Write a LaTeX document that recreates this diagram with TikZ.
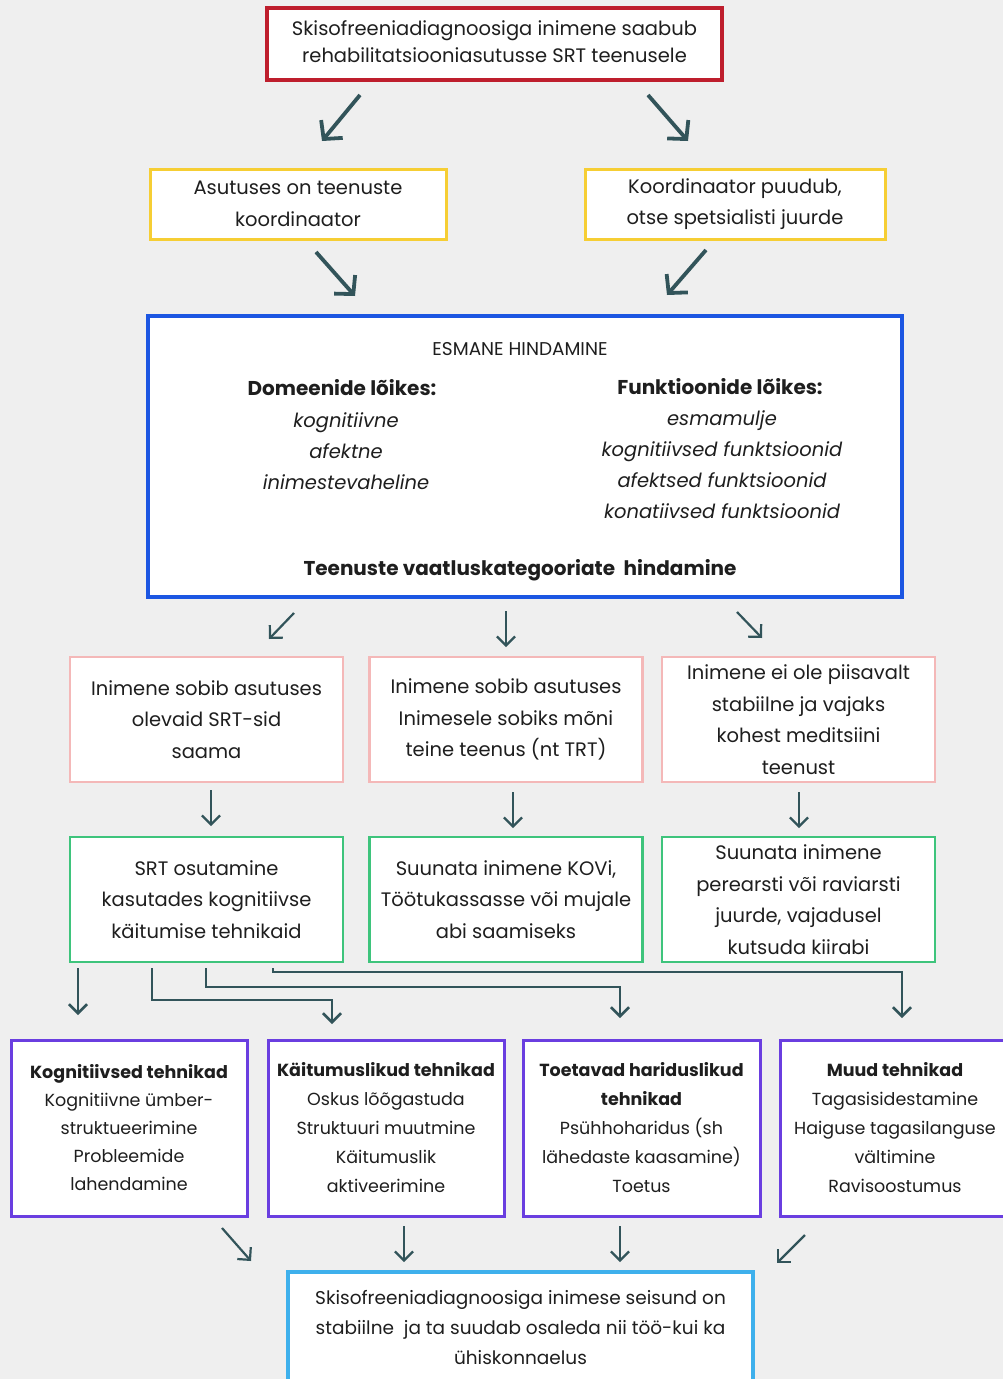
\documentclass[tikz,border=0pt]{standalone}
\usepackage{fontspec}
\setmainfont{Poppins}
\usetikzlibrary{arrows.meta}
\definecolor{bgc}{RGB}{239,239,239}
\definecolor{redc}{RGB}{190,30,45}
\definecolor{yelc}{RGB}{246,206,52}
\definecolor{bluec}{RGB}{28,86,226}
\definecolor{pinkc}{RGB}{244,184,184}
\definecolor{greenc}{RGB}{62,196,124}
\definecolor{purc}{RGB}{106,62,224}
\definecolor{lbluec}{RGB}{62,176,236}
\definecolor{arrc}{RGB}{50,84,90}
\definecolor{txtc}{RGB}{30,30,30}
\tikzset{
  box/.style={draw, fill=white, inner sep=0pt, align=center, text=txtc},
  redbox/.style={box, draw=redc, line width=3.5pt},
  yelbox/.style={box, draw=yelc, line width=3pt},
  bluebox/.style={box, draw=bluec, line width=4pt},
  pinkbox/.style={box, draw=pinkc, line width=2.2pt, minimum width=273pt, minimum height=125pt},
  greenbox/.style={box, draw=greenc, line width=2.8pt, minimum width=273pt, minimum height=125pt},
  purbox/.style={box, draw=purc, line width=3pt, minimum height=176pt},
  lbluebox/.style={box, draw=lbluec, line width=4pt},
  maintxt/.style={font=\fontsize{19.5}{31.5}\selectfont},
  smalltxt/.style={font=\fontsize{17.5}{29}\selectfont},
  lbl/.style={text=txtc, inner sep=0pt, align=center},
  bigarr/.style={draw=arrc, line width=3.8pt, -{Straight Barb[length=13pt,width=28pt,line width=3.8pt]}},
  thinarr/.style={draw=arrc, line width=2.2pt, -{Straight Barb[length=9pt,width=18pt,line width=2.2pt]}},
  conn/.style={draw=arrc, line width=2.6pt, -{Straight Barb[length=9pt,width=18pt,line width=2.6pt]}},
}
\begin{document}
\begin{tikzpicture}[x=1pt,y=-1pt]
\fill[bgc] (0,0) rectangle (1003,1379);
\useasboundingbox (0,0) rectangle (1003,1379);

% top box
\node[redbox, minimum width=455pt, minimum height=72pt, font=\fontsize{19.5}{27}\selectfont] (top) at (494.5,44)
  {\raisebox{-3pt}{\begin{tabular}{@{}c@{}}Skisofreeniadiagnoosiga inimene saabub\\rehabilitatsiooniasutusse SRT teenusele\end{tabular}}};

% yellow boxes
\node[yelbox, minimum width=296pt, minimum height=70pt, maintxt] (yl) at (298,204)
  {Asutuses on teenuste\\koordinaator};
\node[yelbox, minimum width=300pt, minimum height=70pt, maintxt] (yr) at (735,204)
  {Koordinaator puudub,\\otse spetsialisti juurde};

% blue box
\node[bluebox, minimum width=754pt, minimum height=281pt] (esm) at (525,456.5) {};
\node[lbl, font=\fontsize{18.5}{20}\selectfont] (esmt) at (520,349) {ESMANE HINDAMINE};
\node[lbl, font=\bfseries\fontsize{20}{22}\selectfont] (dom) at (342,388) {Domeenide lõikes:};
\node[lbl, font=\itshape\fontsize{19.5}{31}\selectfont, anchor=north] (doml) at (346,412)
  {kognitiivne\\afektne\\inimestevaheline};
\node[lbl, font=\bfseries\fontsize{20}{22}\selectfont] (fun) at (720,387) {Funktioonide lõikes:};
\node[lbl, font=\itshape\fontsize{19.5}{31}\selectfont, anchor=north] (funl) at (722,410)
  {esmamulje\\kognitiivsed funktsioonid\\afektsed funktsioonid\\konatiivsed funktsioonid};
\node[lbl, font=\bfseries\fontsize{20}{22}\selectfont] (teen) at (520,570) {Teenuste vaatluskategooriate \ hindamine};

% pink boxes
\node[pinkbox, maintxt] (p1) at (206.5,719.5) {Inimene sobib asutuses\\olevaid SRT-sid\\saama};
\node[pinkbox, maintxt] (p2) at (506,719.5) {Inimene sobib asutuses\\Inimesele sobiks mõni\\teine teenus (nt TRT)};
\node[pinkbox, maintxt] (p3) at (798.5,719.5) {Inimene ei ole piisavalt\\stabiilne ja vajaks\\kohest meditsiini\\teenust};

% green boxes
\node[greenbox, maintxt] (g1) at (206.5,899.5) {SRT osutamine\\kasutades kognitiivse\\käitumise tehnikaid};
\node[greenbox, maintxt] (g2) at (506,899.5) {Suunata inimene KOVi,\\Töötukassasse või mujale\\abi saamiseks};
\node[greenbox, maintxt] (g3) at (798.5,899.5) {Suunata inimene\\perearsti või raviarsti\\juurde, vajadusel\\kutsuda kiirabi};

% purple boxes
\node[purbox, minimum width=236pt, font=\fontsize{17.5}{28}\selectfont] (t1) at (129,1128)
  {\textbf{Kognitiivsed tehnikad}\\Kognitiivne ümber-\\struktueerimine\\Probleemide\\lahendamine};
\node[purbox, minimum width=236pt, smalltxt] (t2) at (386,1128)
  {\textbf{Käitumuslikud tehnikad}\\Oskus lõõgastuda\\Struktuuri muutmine\\Käitumuslik\\aktiveerimine};
\node[purbox, minimum width=237pt, smalltxt] (t3) at (641.5,1128)
  {\textbf{Toetavad hariduslikud}\\\textbf{tehnikad}\\Psühhoharidus (sh\\lähedaste kaasamine)\\Toetus};
\node[purbox, minimum width=230pt, smalltxt] (t4) at (895,1128)
  {\textbf{Muud tehnikad}\\Tagasisidestamine\\Haiguse tagasilanguse\\vältimine\\Ravisoostumus};

% final box
\node[lbluebox, minimum width=465pt, minimum height=110pt, font=\fontsize{18.5}{30}\selectfont] (fin) at (520.5,1327)
  {Skisofreeniadiagnoosiga inimese seisund on\\stabiilne \ ja ta suudab osaleda nii töö-kui ka\\ühiskonnaelus};

% arrow coordinates
\coordinate (a1s) at (360,95);  \coordinate (a1e) at (322,141);
\coordinate (a2s) at (648,95);  \coordinate (a2e) at (688,141);
\coordinate (a3s) at (316,252); \coordinate (a3e) at (355,296);
\coordinate (a4s) at (706,250); \coordinate (a4e) at (667,295);
\draw[bigarr] (a1s) -- (a1e);
\draw[bigarr] (a2s) -- (a2e);
\draw[bigarr] (a3s) -- (a3e);
\draw[bigarr] (a4s) -- (a4e);

\coordinate (b1s) at (294,613); \coordinate (b1e) at (269,639);
\coordinate (b2s) at (506,611); \coordinate (b2e) at (506,647);
\coordinate (b3s) at (737,612); \coordinate (b3e) at (762,638);
\draw[thinarr] (b1s) -- (b1e);
\draw[thinarr] (b2s) -- (b2e);
\draw[thinarr] (b3s) -- (b3e);

\coordinate (c1s) at (211,790); \coordinate (c1e) at (211,826);
\coordinate (c2s) at (513,792); \coordinate (c2e) at (513,828);
\coordinate (c3s) at (799,792); \coordinate (c3e) at (799,828);
\draw[thinarr] (c1s) -- (c1e);
\draw[thinarr] (c2s) -- (c2e);
\draw[thinarr] (c3s) -- (c3e);

% connectors from SRT box
\coordinate (d1s) at (78,968);  \coordinate (d1e) at (78,1015);
\coordinate (d2s) at (152,968); \coordinate (d2e) at (332,1024);
\coordinate (d3s) at (206,968); \coordinate (d3e) at (620,1018);
\coordinate (d4s) at (273,968); \coordinate (d4e) at (902,1018);
\draw[conn] (d1s) -- (d1e);
\draw[conn] (d2s) |- (332,1000) -- (d2e);
\draw[conn] (d3s) |- (620,987) -- (d3e);
\draw[conn] (d4s) |- (902,972) -- (d4e);

% arrows to final box
\coordinate (e1s) at (222,1228); \coordinate (e1e) at (251,1261);
\coordinate (e2s) at (404,1226); \coordinate (e2e) at (404,1262);
\coordinate (e3s) at (620,1226); \coordinate (e3e) at (620,1262);
\coordinate (e4s) at (805,1235); \coordinate (e4e) at (777,1263);
\draw[thinarr] (e1s) -- (e1e);
\draw[thinarr] (e2s) -- (e2e);
\draw[thinarr] (e3s) -- (e3e);
\draw[thinarr] (e4s) -- (e4e);
\end{tikzpicture}
\end{document}
